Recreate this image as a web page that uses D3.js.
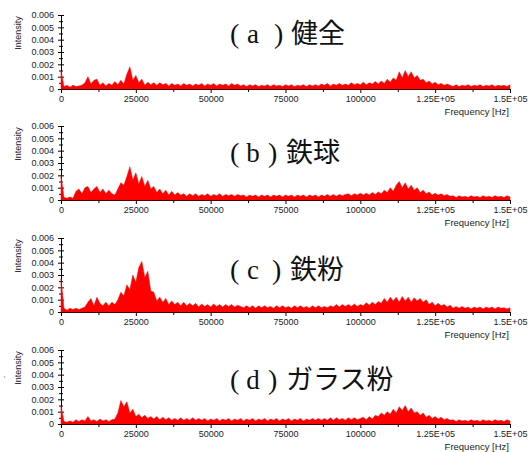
<!DOCTYPE html>
<html>
<head>
<meta charset="utf-8">
<script src="https://cdn.jsdelivr.net/npm/d3@7"></script>
<style>
  html, body { margin: 0; padding: 0; background: #fff; }
  svg { display: block; }
  .tick text { font-family: "Liberation Sans", Arial, sans-serif; font-size: 9px; fill: #222; }
</style>
</head>
<body>
<svg id="chart" width="528" height="452"></svg>
<script>
// Spectra sampled in 1 kHz bins (0 .. 150 kHz); intensities in units of 1e-4.
const binWidthHz = 1000;
const intensityUnit = 1e-4;

const panelLetters = ["a", "b", "c", "d"];
const panelNames = ["健全", "鉄球", "鉄粉", "ガラス粉"];

const intensityA = [
  15,
  2, 3, 1.5, 3, 2, 2.5, 3,
  5, 10, 4, 7, 8, 3, 5, 2.5, 4.5, 3,
  6, 3.5, 7, 4, 12, 18, 7, 11, 5, 8,
  3, 5.5, 3.5, 5, 3, 5, 3.5, 4.5,
  2.5, 4.5, 3, 4, 2.5, 4.5, 3, 4, 2.5, 4, 3, 4.5, 2.5, 4, 3, 4.5, 2.5, 4, 3, 4, 2.5, 4.5, 3, 4, 2.5,
  3.5, 2, 3.5, 2.5, 3.5, 2, 3, 2.5, 3.5, 2, 3.5, 2.5, 3, 2, 3.5, 2.5, 3.5, 2, 3, 2.5, 3.5, 2, 3.5, 2.5, 3.5,
  2.5, 4, 3, 4.5, 2.5, 4, 3, 4.5, 3, 4, 3, 5, 3.5, 4.5, 3.5,
  5.5, 3.5, 5, 4, 6, 4, 6.5, 4.5,
  8, 5.5, 9, 7,
  14, 9, 15, 10, 14, 9, 11, 7,
  8, 5, 6.5, 4, 5.5, 3.5, 4.5, 3, 4, 3,
  2, 3.5, 2, 3, 2.5, 3.5, 2, 3, 2.5, 3.5, 2, 3, 2.5, 3.5, 2, 3, 2.5, 3, 2, 3.5
];

const intensityB = [
  20,
  2, 1.5, 2.5, 1.5,
  7, 9, 5, 10, 11, 6,
  9, 11, 6, 9, 5, 8,
  5, 4, 9,
  14, 12, 19, 27, 16, 22, 13, 19, 11, 16, 9,
  11, 6, 9, 5, 8,
  4, 7, 4, 6, 4,
  5, 3, 5, 3.5, 5, 3, 4.5, 3.5, 5, 3, 4.5, 3.5, 5, 3, 4.5, 3.5, 4.5, 3, 4.5, 3.5,
  4, 2.5, 4, 3, 4, 2.5, 4, 3, 4, 2.5, 4, 3, 4, 2.5, 4, 3, 4, 2.5,
  4, 3, 4, 2.5, 4, 3, 4, 2.5, 4, 3, 4.5, 3, 4.5, 3, 4.5, 3.5, 4.5,
  5, 3.5, 5, 4, 5.5, 4, 5.5, 4, 6, 4.5, 6.5, 5,
  8, 6, 10, 7, 12,
  15, 10, 14, 9, 12,
  8, 10, 6, 8, 5,
  6.5, 4, 5.5, 4, 5, 3.5, 4.5, 3,
  3.5, 2, 3.5, 2.5, 3, 2, 3.5, 2.5, 3, 2, 3.5, 2.5, 3, 2, 3.5, 2.5, 3, 2, 3.5, 2.5
];

const intensityC = [
  27,
  3, 1.5, 3, 2, 3, 2, 3,
  4, 8, 11, 5, 12, 7,
  5, 8, 5, 8, 6, 10,
  16, 13, 22, 18, 30, 24, 36, 41, 28, 33, 17,
  16, 9, 12, 8, 11,
  6, 9, 6, 8, 5, 8, 5, 7, 5, 7,
  4, 6.5, 4.5, 6, 4, 6.5, 4.5, 6, 4, 6, 4.5, 6, 4, 5.5, 4.5,
  3.5, 5, 3.5, 5, 3, 5, 3.5, 5, 3.5, 4.5, 3, 5, 3.5, 5, 3.5,
  4.5, 3, 5, 3.5, 5, 3.5, 4.5, 3, 5, 3.5, 5, 3.5, 4.5, 3.5, 5,
  4, 6, 4, 6, 4.5, 6, 4.5, 6.5, 4.5, 6,
  5, 7.5, 5.5, 8, 6, 8.5, 7,
  11, 8, 12, 9, 12, 8, 12.5, 9, 12, 8, 11.5, 9, 11, 8, 10,
  6, 8, 5, 7, 5, 6, 4, 5.5,
  3, 4.5, 3, 4.5, 3, 4, 2.5, 4, 3, 4, 2.5, 4, 3, 4, 2.5, 4, 3, 3.5, 2.5, 3.5
];

const intensityD = [
  15,
  2, 1.5, 2.5, 1.5,
  3.5, 2, 3.5, 2.5,
  6, 2.5,
  3.5, 2, 4, 2.5, 3.5, 2, 3.5,
  4, 9,
  19, 14, 18,
  9, 12, 6,
  8, 5, 7, 4.5, 6,
  4, 6, 3.5, 5.5, 3.5,
  5, 3, 4.5, 3, 5, 3, 4.5, 3, 5, 3,
  4.5, 3, 4.5, 2.5, 4, 3, 4.5, 2.5, 4, 3,
  4.5, 2.5, 4, 3, 4.5, 2.5, 4, 3, 4.5, 2.5,
  4, 3, 4.5, 2.5, 4, 3, 4.5, 2.5, 4, 3,
  4.5, 2.5, 4, 3, 4.5, 2.5, 4, 3, 4.5, 3,
  4.5, 3, 4.5, 3, 5, 3, 5, 3.5, 4.5, 3,
  5, 3.5, 5, 3.5, 4.5,
  5.5, 3.5, 6, 4, 7,
  6, 9, 7, 10, 8,
  12, 9, 14, 11, 15, 10, 13, 9,
  10, 7, 9, 5.5,
  7, 4.5, 6, 4, 5.5, 3.5, 4.5, 3,
  3.5, 2, 3.5, 2.5, 3, 2, 3.5, 2.5, 3, 2, 3.5, 2.5, 3, 2, 3.5, 2.5, 3, 2, 3.5, 2.5
];

const spectra = [intensityA, intensityB, intensityC, intensityD];

const xTickValues = [0, 25000, 50000, 75000, 100000, 125000, 150000];
const xTickLabels = ["0", "25000", "50000", "75000", "100000", "1.25E+05", "1.5E+05"];
const xMinorTicks = [12500, 37500, 62500, 87500, 112500, 137500];
const yTickValues = [0, 0.001, 0.002, 0.003, 0.004, 0.005, 0.006];
const yTickLabels = ["0", "0.001", "0.002", "0.003", "0.004", "0.005", "0.006"];
const yMinorTicks = [0.0005, 0.0015, 0.0025, 0.0035, 0.0045, 0.0055];

// Layout
const plotLeft = 61, plotRight = 510, plotHeight = 74;
const panelTops = [15, 126, 238, 350];
const titleBaselines = [43, 162, 279, 389];
const red = "#ff0000";
const latin = "'Liberation Sans', Arial, sans-serif";
const cjk = "'Noto Sans CJK JP', 'Noto Sans CJK SC', sans-serif";
const serif = "'Liberation Serif', 'DejaVu Serif', serif";

const svg = d3.select("#chart");
svg.append("rect").attr("width", 528).attr("height", 452).attr("fill", "#fff");

const x = d3.scaleLinear().domain([0, 150000]).range([plotLeft, plotRight]);

spectra.forEach((values, p) => {
  const top = panelTops[p];
  const y = d3.scaleLinear().domain([0, 0.006]).range([top + plotHeight, top]);
  const g = svg.append("g");

  // Title
  const tb = titleBaselines[p];
  const title = g.append("g").attr("fill", "#111");
  title.append("text").attr("x", 230).attr("y", tb)
    .attr("font-family", serif).attr("font-size", 28).text("(");
  title.append("text").attr("x", 253).attr("y", tb).attr("text-anchor", "middle")
    .attr("font-family", serif).attr("font-size", 27).text(panelLetters[p]);
  title.append("text").attr("x", 268 + (p === 0 ? 6 : (p === 2 ? 4 : 0))).attr("y", tb)
    .attr("font-family", serif).attr("font-size", 28).text(")");
  title.append("text").attr("x", 286 + (p === 0 ? 5 : (p === 2 ? 4 : 0))).attr("y", tb)
    .attr("font-family", cjk).attr("font-size", 27).text(panelNames[p]);

  // Y label
  g.append("text")
    .attr("transform", `translate(21,${top + 18}) rotate(-90)`)
    .attr("text-anchor", "middle")
    .attr("font-family", latin).attr("font-size", 9).attr("fill", "#222")
    .text("Intensity");

  // Axes
  const yAxis = g.append("g").attr("transform", `translate(${plotLeft},0)`)
    .call(d3.axisLeft(y).tickValues(yTickValues)
      .tickFormat((d, i) => yTickLabels[i]).tickSize(3).tickSizeOuter(0).tickPadding(4));
  yAxis.selectAll(".tick line").attr("x1", 3);
  const yMinor = g.append("g").attr("transform", `translate(${plotLeft},0)`)
    .call(d3.axisLeft(y).tickValues(yMinorTicks).tickFormat("").tickSize(2).tickSizeOuter(0));
  yMinor.selectAll(".tick line").attr("x1", 2);
  yMinor.select(".domain").remove();

  g.append("g").attr("transform", `translate(0,${top + plotHeight})`)
    .call(d3.axisBottom(x).tickValues(xTickValues)
      .tickFormat((d, i) => xTickLabels[i]).tickSize(4).tickSizeOuter(0).tickPadding(3));
  const xMinor = g.append("g").attr("transform", `translate(0,${top + plotHeight})`)
    .call(d3.axisBottom(x).tickValues(xMinorTicks).tickFormat("").tickSize(3).tickSizeOuter(0));
  xMinor.select(".domain").remove();

  g.append("text")
    .attr("x", plotRight - 1).attr("y", top + plotHeight + 26)
    .attr("text-anchor", "end")
    .attr("font-family", latin).attr("font-size", 9.5).attr("fill", "#222")
    .text("Frequency [Hz]");

  // Spectrum
  const area = d3.area()
    .x((d, i) => x(i * binWidthHz))
    .y0(y(0))
    .y1(d => y(d * intensityUnit));
  g.append("path").datum(values)
    .attr("d", area)
    .attr("fill", red)
    .attr("stroke", red).attr("stroke-width", 0.5);
});

// small stray mark beside the lowest y label
svg.append("text")
  .attr("transform", "translate(9,378) rotate(-90)")
  .attr("font-family", latin).attr("font-size", 8).attr("fill", "#333")
  .text("´");
</script>
</body>
</html>
